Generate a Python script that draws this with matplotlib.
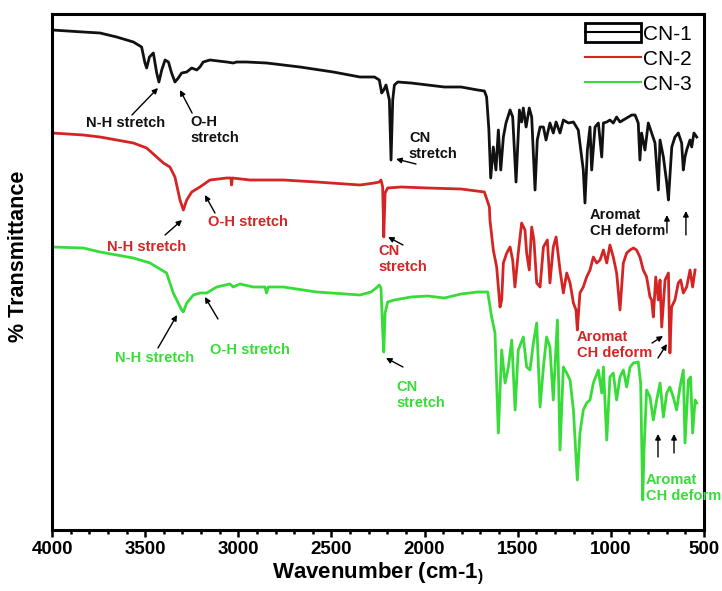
import matplotlib
matplotlib.use('Agg')
import matplotlib.pyplot as plt
from matplotlib.patches import Rectangle
from matplotlib.lines import Line2D
from matplotlib.ticker import MultipleLocator

plt.rcParams['font.family'] = ['Liberation Sans', 'DejaVu Sans']
plt.rcParams['mathtext.fontset'] = 'custom'
plt.rcParams['mathtext.rm'] = 'Liberation Sans:bold'
plt.rcParams['mathtext.it'] = 'Liberation Sans:bold'
plt.rcParams['mathtext.bf'] = 'Liberation Sans:bold'

# ---------------- data (wavenumber, offset transmittance in a.u.) ----------------
series_names = ['CN-1', 'CN-2', 'CN-3']

wn1 = [4000, 3832, 3742, 3653, 3563, 3519, 3501, 3492, 3477, 3456,
       3438, 3426, 3411, 3393, 3375, 3358, 3340, 3322, 3304, 3277,
       3250, 3223, 3206, 3188, 3152, 3062, 3027, 3009, 2955, 2848,
       2669, 2490, 2347, 2269, 2243, 2230, 2219, 2207, 2189, 2180,
       2171, 2162, 2144, 2073, 1983, 1894, 1804, 1715, 1679, 1667,
       1655, 1645, 1631, 1617, 1604, 1591, 1577, 1563, 1541, 1527,
       1509, 1491, 1479, 1470, 1455, 1438, 1425, 1407, 1395, 1380,
       1362, 1348, 1327, 1309, 1294, 1273, 1255, 1228, 1201, 1175,
       1148, 1139, 1126, 1112, 1103, 1085, 1067, 1049, 1040, 1022,
       1005, 987, 969, 951, 915, 888, 870, 853, 844, 835,
       817, 799, 781, 763, 745, 736, 718, 700, 691, 673,
       656, 638, 620, 611, 602, 593, 575, 566, 554, 539]
t1 = [499, 497, 496, 492, 487, 482, 466, 461, 472, 476,
      456, 447, 459, 469, 467, 456, 447, 451, 456, 457,
      461, 459, 462, 467, 469, 467, 466, 467, 467, 466,
      462, 457, 452, 452, 449, 436, 439, 444, 429, 369,
      429, 444, 447, 446, 444, 442, 442, 439, 438, 432,
      400, 351, 382, 359, 399, 359, 392, 406, 419, 412,
      347, 419, 407, 421, 402, 421, 412, 339, 389, 402,
      402, 389, 406, 396, 407, 396, 409, 406, 407, 399,
      359, 326, 379, 402, 359, 402, 406, 372, 406, 407,
      409, 406, 412, 407, 411, 414, 414, 406, 369, 396,
      379, 406, 396, 386, 339, 389, 372, 346, 329, 382,
      392, 396, 386, 359, 372, 379, 389, 382, 396, 392]

wn2 = [4000, 3832, 3742, 3653, 3563, 3492, 3438, 3402, 3367, 3340,
       3313, 3295, 3277, 3250, 3206, 3152, 3062, 3040, 3036, 3032,
       2937, 2758, 2580, 2347, 2269, 2243, 2234, 2225, 2219, 2212,
       2198, 2126, 1983, 1804, 1679, 1652, 1649, 1631, 1613, 1595,
       1586, 1577, 1559, 1541, 1527, 1515, 1497, 1479, 1461, 1452,
       1438, 1425, 1413, 1398, 1380, 1362, 1341, 1327, 1309, 1294,
       1273, 1255, 1237, 1219, 1201, 1187, 1180, 1166, 1148, 1130,
       1112, 1094, 1076, 1058, 1040, 1022, 1005, 987, 969, 951,
       933, 915, 897, 879, 862, 844, 826, 808, 790, 781,
       772, 759, 745, 736, 727, 709, 691, 683, 674, 656,
       638, 625, 611, 593, 575, 561, 548]
t2 = [396, 394, 392, 389, 386, 381, 372, 366, 362, 352,
      329, 319, 329, 337, 342, 349, 351, 351, 344, 351,
      349, 349, 347, 344, 346, 347, 349, 342, 292, 336,
      341, 342, 341, 340, 337, 322, 309, 279, 262, 222,
      229, 266, 276, 282, 269, 242, 276, 306, 299, 276,
      259, 302, 289, 246, 242, 282, 289, 246, 282, 292,
      259, 236, 256, 246, 226, 219, 199, 236, 242, 252,
      259, 272, 266, 269, 279, 266, 284, 272, 256, 219,
      266, 276, 279, 281, 279, 272, 259, 252, 232, 229,
      212, 252, 229, 249, 202, 249, 256, 176, 222, 229,
      246, 249, 236, 242, 259, 242, 259]

wn3 = [4000, 3832, 3742, 3653, 3563, 3474, 3385, 3349, 3304, 3295,
       3277, 3241, 3206, 3170, 3116, 3045, 3027, 2991, 2919, 2857,
       2848, 2839, 2758, 2579, 2347, 2287, 2260, 2243, 2234, 2225,
       2219, 2212, 2198, 2162, 2073, 1983, 1894, 1804, 1715, 1661,
       1640, 1622, 1604, 1586, 1568, 1550, 1532, 1514, 1497, 1470,
       1452, 1434, 1416, 1398, 1380, 1362, 1345, 1327, 1309, 1287,
       1273, 1255, 1237, 1219, 1201, 1180, 1166, 1148, 1130, 1112,
       1094, 1067, 1049, 1040, 1022, 1005, 987, 969, 951, 933,
       915, 897, 879, 853, 840, 829, 822, 808, 790, 772,
       754, 736, 718, 700, 683, 665, 647, 629, 611, 602,
       584, 572, 561, 548, 539]
t3 = [282, 281, 277, 274, 271, 266, 256, 236, 219, 217,
      226, 234, 236, 236, 242, 245, 242, 245, 242, 242,
      236, 242, 242, 237, 234, 237, 241, 244, 241, 199,
      177, 216, 227, 229, 232, 233, 231, 235, 237, 237,
      212, 196, 96, 179, 146, 162, 189, 119, 179, 192,
      162, 159, 186, 206, 122, 162, 192, 182, 129, 209,
      79, 162, 156, 149, 119, 49, 96, 119, 126, 129,
      146, 159, 136, 162, 89, 152, 156, 129, 152, 159,
      142, 162, 166, 167, 146, 29, 79, 139, 132, 109,
      129, 146, 112, 136, 142, 132, 119, 142, 159, 86,
      149, 152, 96, 129, 126]

xticks = [4000, 3500, 3000, 2500, 2000, 1500, 1000, 500]

BLACK = '#111111'
RED = '#d42424'
GREEN = '#38dc38'

fig = plt.figure(figsize=(7.22, 5.91), dpi=100)
ax = fig.add_axes([52/722, 1-530/591, 652/722, 516/591])

ax.plot(wn1, t1, color=BLACK, lw=2.0, solid_joinstyle='round')
ax.plot(wn2, t2, color=RED, lw=2.0, solid_joinstyle='round')
ax.plot(wn3, t3, color=GREEN, lw=2.0, solid_joinstyle='round')

ax.set_xlim(4000, 500)
ax.set_ylim(-1, 515)
ax.set_xticks(xticks)
ax.set_xticklabels([str(v) for v in xticks], fontweight='bold', fontsize=13.5)
ax.xaxis.set_minor_locator(MultipleLocator(100))
ax.tick_params(axis='x', which='major', direction='out', length=5, width=1.8, pad=3)
ax.tick_params(axis='x', which='minor', direction='out', length=3, width=1.8)
ax.tick_params(axis='y', left=False, labelleft=False)
for sp in ax.spines.values():
    sp.set_linewidth(2.2)

ax.set_xlabel(r'Wavenumber (cm-1$_{)}$', fontsize=16, fontweight='bold', labelpad=2)
ax.set_ylabel('% Transmittance', fontsize=15.5, fontweight='bold')
ax.yaxis.set_label_coords(-0.036, 0.531)

# ---------------- annotations ----------------
fs = 10.5
arrow = dict(arrowstyle='-|>', color='black', lw=1.0, mutation_scale=8, shrinkA=0, shrinkB=0)

def note(txt, xy, color, ha='left'):
    ax.text(xy[0], xy[1], txt, color=color, fontsize=fs, fontweight='bold',
            ha=ha, va='center', linespacing=1.1, clip_on=False)

def arr(start, tip):
    ax.annotate('', xy=tip, xytext=start, arrowprops=arrow, annotation_clip=False)

# CN-1
note('N-H stretch', (3603, 406), BLACK, ha='center')
arr((3571, 414), (3431, 441))
note('O-H\nstretch', (3259, 399), BLACK)
arr((3248, 416), (3313, 439))
note('CN\nstretch', (2084, 383), BLACK)
arr((2046, 365), (2153, 370))
note('Aromat\nCH deform', (1112, 306), BLACK)
arr((699, 296), (699, 314))
arr((597, 294), (597, 318))

# CN-2
note('N-H stretch', (3490, 282), RED, ha='center')
arr((3393, 294), (3302, 309))
note('O-H stretch', (3163, 307), RED)
arr((3125, 316), (3179, 334))
note('CN\nstretch', (2250, 270), RED)
arr((2116, 284), (2196, 292))
note('Aromat\nCH deform', (1182, 184), RED)
arr((779, 186), (720, 193))
arr((747, 171), (699, 185))

# CN-3
note('N-H stretch', (3447, 171), GREEN, ha='center')
arr((3431, 181), (3329, 214))
note('O-H stretch', (3152, 179), GREEN)
arr((3109, 210), (3179, 232))
note('CN\nstretch', (2153, 134), GREEN)
arr((2116, 162), (2207, 171))
note('Aromat\nCH deform', (811, 41), GREEN)
arr((747, 72), (747, 95))
arr((661, 76), (661, 95))

# ---------------- legend ----------------
h1 = (Rectangle((0, 0), 1, 1, facecolor='white', edgecolor='black', lw=2.0),
      Line2D([], [], color='black', lw=1.5))
h2 = Line2D([], [], color=RED, lw=1.5)
h3 = Line2D([], [], color=GREEN, lw=1.5)
ax.legend([h1, h2, h3], series_names, loc='upper right', bbox_to_anchor=(0.9856, 0.9877),
          frameon=False, fontsize=15,
          handlelength=2.65, handleheight=1.0, handletextpad=0.1, labelspacing=0.23,
          borderaxespad=0.0, borderpad=0.15)

fig.savefig('out.png', dpi=100)
